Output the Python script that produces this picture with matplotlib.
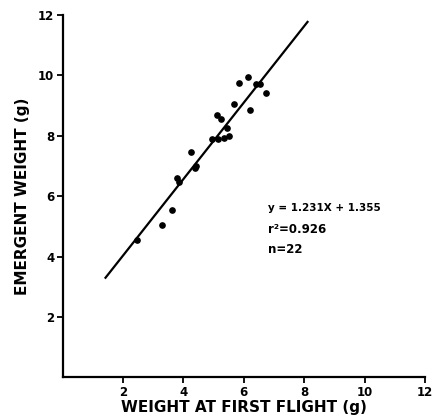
import matplotlib
matplotlib.use('Agg')
import matplotlib.pyplot as plt

# weight at first flight (g) vs emergent weight (g)
first_flight = [2.45, 3.28, 3.63, 3.79, 3.85, 4.24, 4.37, 4.42,
                4.94, 5.14, 5.33, 5.51, 5.43, 5.10, 5.24, 5.69,
                6.22, 5.85, 6.14, 6.40, 6.54, 6.73]
emergent = [4.55, 5.06, 5.54, 6.60, 6.47, 7.47, 6.93, 7.00,
            7.88, 7.90, 7.94, 7.98, 8.27, 8.69, 8.56, 9.04,
            8.85, 9.75, 9.95, 9.70, 9.73, 9.41]

# fitted line as drawn in the figure
fit_x = [1.42, 8.11]
fit_y = [3.30, 11.77]

ticks = [2, 4, 6, 8, 10, 12]

fig = plt.figure(figsize=(4.35, 4.19), dpi=100)
ax = fig.add_axes([0.144, 0.0993, 0.833, 0.865])

ax.plot(fit_x, fit_y, color='black', linewidth=1.6)
ax.plot(first_flight, emergent, 'o', color='black', markersize=3.8)

ax.set_xlim(0, 12)
ax.set_ylim(0, 12)
ax.set_xticks(ticks)
ax.set_yticks(ticks)
ax.set_xticklabels([str(t) for t in ticks], fontsize=8.5, fontweight='bold')
ax.set_yticklabels([str(t) for t in ticks], fontsize=8.5, fontweight='bold')
ax.tick_params(direction='out', length=4, width=1.3, pad=2)

for side in ['top', 'right']:
    ax.spines[side].set_visible(False)
for side in ['left', 'bottom']:
    ax.spines[side].set_linewidth(1.6)

ax.set_xlabel('WEIGHT AT FIRST FLIGHT (g)', fontsize=11, fontweight='bold', labelpad=1)
ax.set_ylabel('EMERGENT WEIGHT (g)', fontsize=11, fontweight='bold', labelpad=6)

ax.text(6.8, 5.61, 'y = 1.231X + 1.355', fontsize=7.5, fontweight='bold', va='center')
ax.text(6.8, 4.91, 'r\u00b2=0.926', fontsize=8.5, fontweight='bold', va='center')
ax.text(6.8, 4.25, 'n=22', fontsize=8.5, fontweight='bold', va='center')

fig.savefig('out.png', dpi=100)
